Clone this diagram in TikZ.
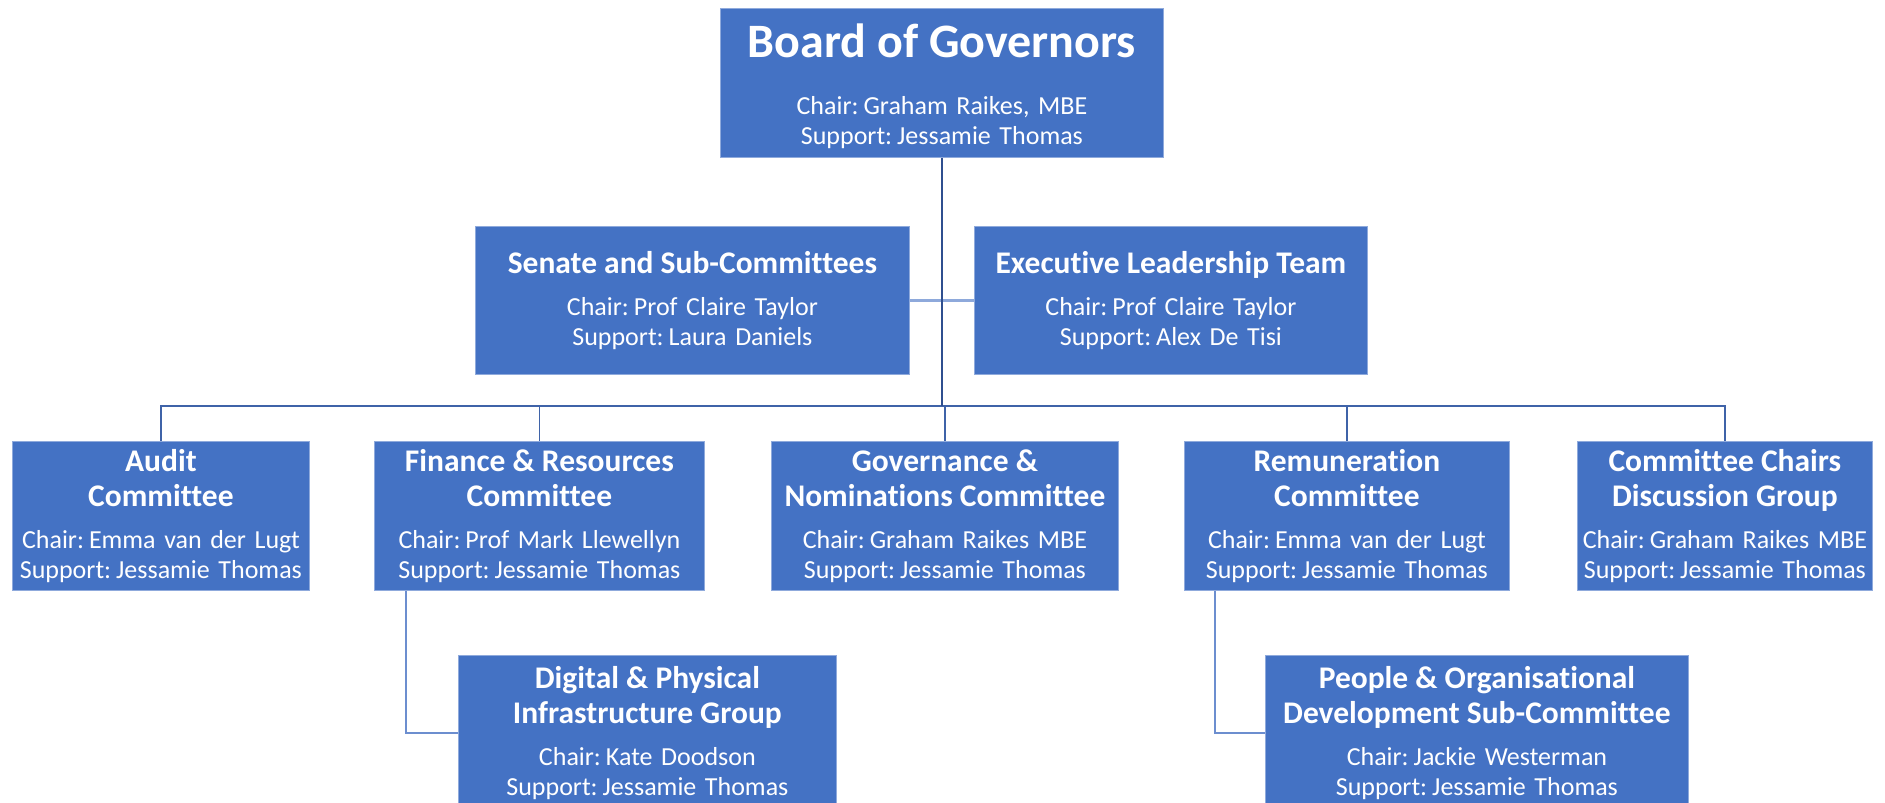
\documentclass[tikz,border=0pt]{standalone}
\usepackage{fontspec}
\setmainfont[Ligatures=NoCommon]{Carlito}
\definecolor{boxblue}{HTML}{4472C4}
\definecolor{boxedge}{HTML}{8FAADC}
\definecolor{trunkblue}{HTML}{2F4F8F}
\definecolor{linkblue}{HTML}{3F63A8}
\definecolor{sublink}{HTML}{6C8ECF}
\definecolor{sidegray}{HTML}{8EA9DB}
\newcommand\orgtitle[1]{{\bfseries\fontsize{31.5}{35}\selectfont\spaceskip=0.226em #1\par}\vspace{12pt}}
\newcommand\orgstaff[2]{{\fontsize{26}{30}\selectfont\spaceskip=0.33em Chair: #1\\Support: #2\par}}

\begin{document}
\begin{tikzpicture}[x=1pt,y=-1pt,
  orgbox/.style={draw=boxedge,line width=0.8pt,fill=boxblue,text=white,anchor=north west,
    inner xsep=0pt,inner ysep=0pt,align=center,minimum height=149pt},
  link/.style={draw=linkblue,line width=1.4pt},
  sub/.style={draw=sublink,line width=2pt},
  trunk/.style={draw=trunkblue,line width=2.2pt},
  side/.style={draw=sidegray,line width=2.5pt}]
  \useasboundingbox (0,0) rectangle (1885,803);
  % Board
  \node[orgbox,text width=443pt] (board) at (720,8)
    {{\bfseries\fontsize{48}{52}\selectfont\spaceskip=0.226em\rule{0pt}{40pt}Board of Governors\par}\vspace{27.5pt}\orgstaff{Graham Raikes, MBE}{Jessamie Thomas}};
  % second row
  \node[orgbox,text width=434pt,minimum height=148pt] (senate) at (475,226)
    {\orgtitle{Senate and Sub-Committees}\orgstaff{Prof Claire Taylor}{Laura Daniels}};
  \node[orgbox,text width=393pt,minimum height=148pt] (elt) at (974,226)
    {\orgtitle{Executive Leadership Team}\orgstaff{Prof Claire Taylor}{Alex De Tisi}};
  % committees
  \node[orgbox,text width=297pt] (audit) at (12,441)
    {\orgtitle{Audit\\Committee}\orgstaff{Emma van der Lugt}{Jessamie Thomas}};
  \node[orgbox,text width=330pt] (finance) at (374,441)
    {\orgtitle{Finance \& Resources\\Committee}\orgstaff{Prof Mark Llewellyn}{Jessamie Thomas}};
  \node[orgbox,text width=347pt] (gov) at (771,441)
    {\orgtitle{Governance \&\\Nominations Committee}\orgstaff{Graham Raikes MBE}{Jessamie Thomas}};
  \node[orgbox,text width=325pt] (remun) at (1184,441)
    {\orgtitle{Remuneration\\Committee}\orgstaff{Emma van der Lugt}{Jessamie Thomas}};
  \node[orgbox,text width=295pt] (chairs) at (1577,441)
    {\orgtitle{Committee Chairs\\Discussion Group}\orgstaff{Graham Raikes MBE}{Jessamie Thomas}};
  % sub-groups
  \node[orgbox,text width=378pt,minimum height=156pt] (digital) at (458,655)
    {\orgtitle{Digital \& Physical\\Infrastructure Group}\orgstaff{Kate Doodson}{Jessamie Thomas}};
  \node[orgbox,text width=423pt,minimum height=156pt] (people) at (1265,655)
    {\orgtitle{People \& Organisational\\Development Sub-Committee}\orgstaff{Jackie Westerman}{Jessamie Thomas}};
  % connectors
  \coordinate (bus) at (941,406);
  \foreach \c in {audit,finance,gov,remun,chairs}
    \draw[link] (board.south |- bus) -| (\c.north);
  \draw[sub] ([xshift=32pt]finance.south west) |- (digital.west);
  \draw[sub] ([xshift=31pt]remun.south west) |- (people.west);
  \draw[side] (senate.east) -- (elt.west);
  \draw[trunk] (board.south) -- (board.south |- bus);
\end{tikzpicture}
\end{document}
